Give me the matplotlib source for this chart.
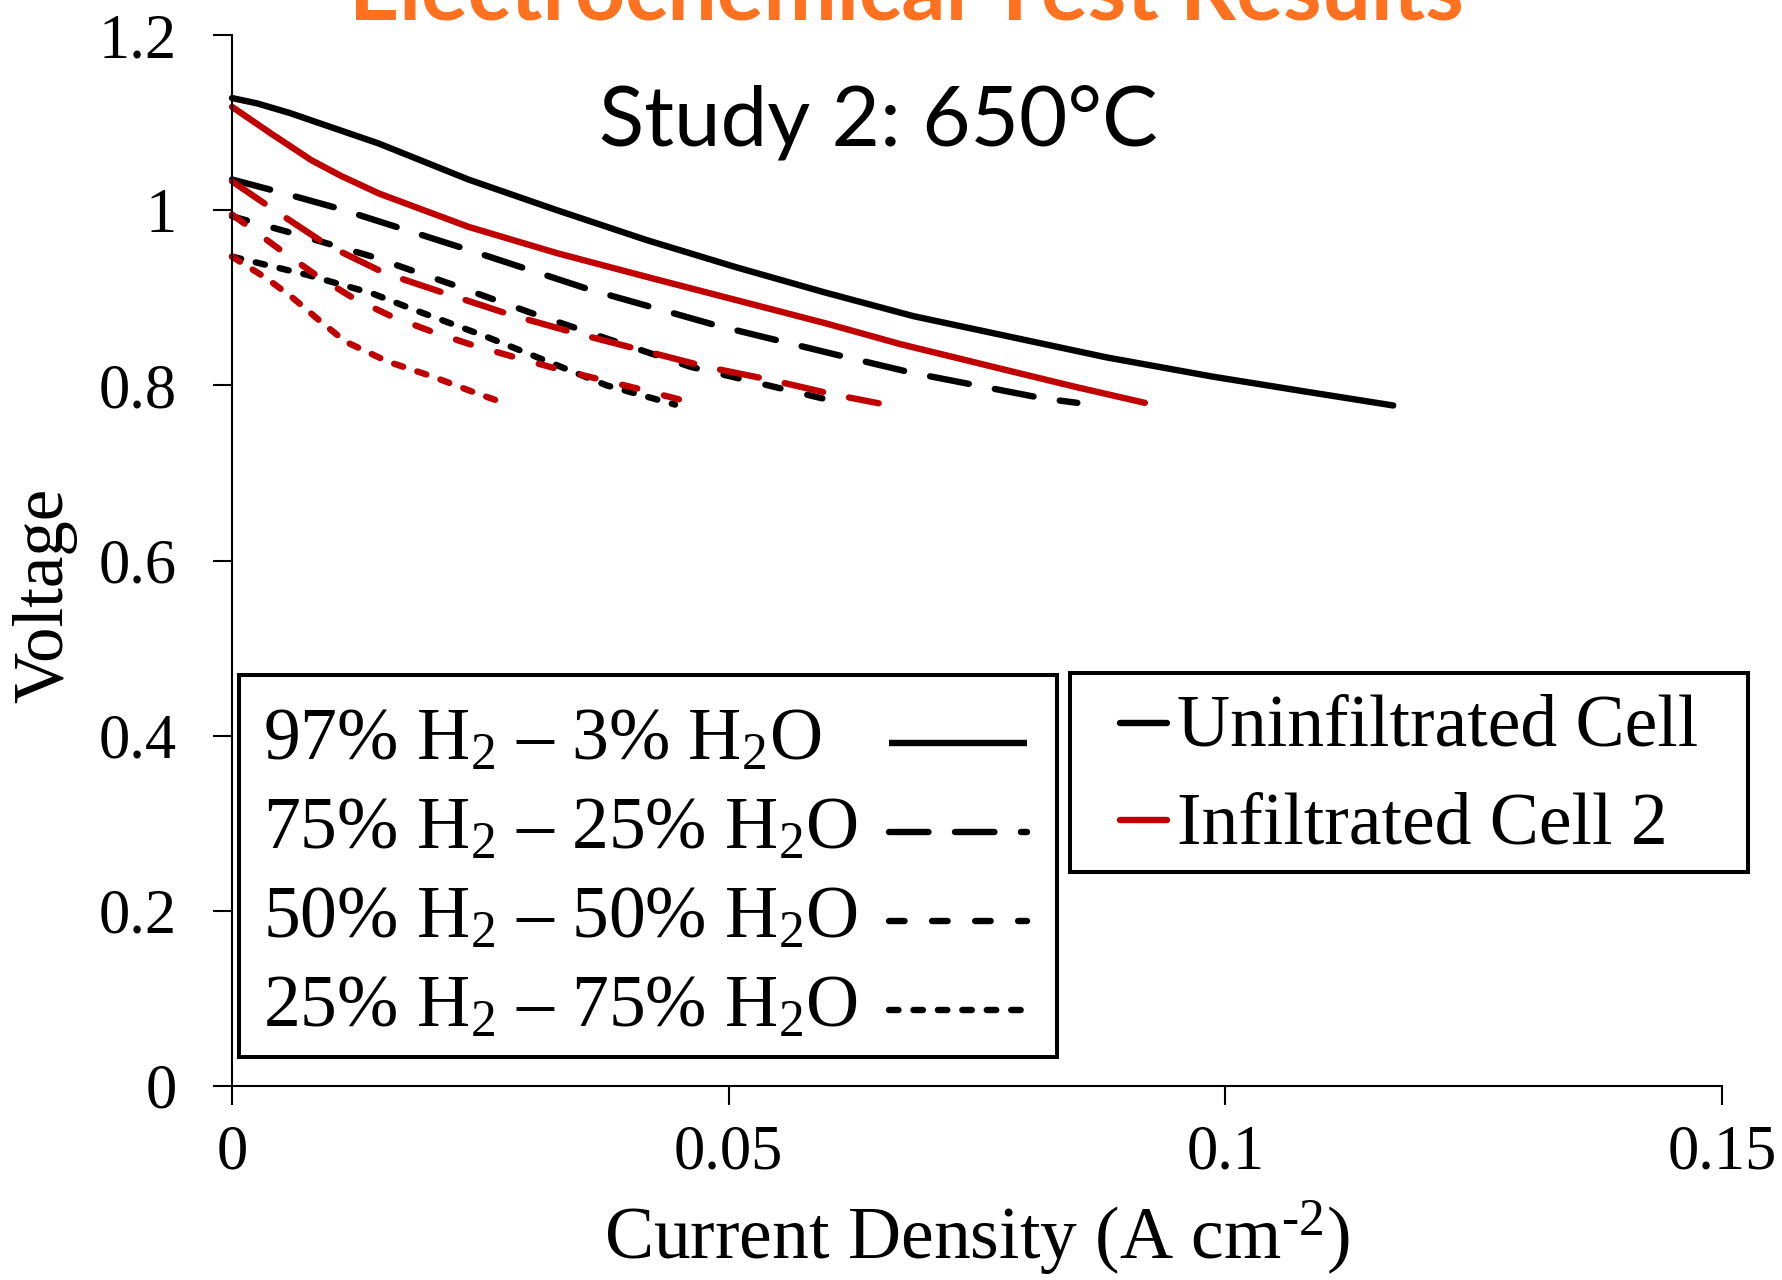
import matplotlib
matplotlib.use('Agg')
import matplotlib.pyplot as plt
from matplotlib.lines import Line2D
from matplotlib.patches import Rectangle

plt.rcParams['font.family'] = ['Liberation Serif', 'DejaVu Serif']
plt.rcParams['mathtext.fontset'] = 'custom'
plt.rcParams['mathtext.rm'] = 'Liberation Serif'
plt.rcParams['mathtext.it'] = 'Liberation Serif:italic'
plt.rcParams['mathtext.bf'] = 'Liberation Serif:bold'
plt.rcParams['lines.scale_dashes'] = False

# ---------------- data (current density A/cm2, voltage V) ----------------
unf_97_x = [0, 0.0025, 0.0058, 0.0148, 0.0238, 0.0327, 0.0417, 0.0507, 0.0597, 0.0686, 0.0781, 0.0880, 0.0987, 0.1080, 0.1169]
unf_97_v = [1.128, 1.122, 1.111, 1.076, 1.035, 1.000, 0.966, 0.935, 0.906, 0.879, 0.856, 0.832, 0.810, 0.793, 0.777]

inf_97_x = [0, 0.0040, 0.0080, 0.0110, 0.0148, 0.0238, 0.0327, 0.0417, 0.0507, 0.0597, 0.0673, 0.0781, 0.0850, 0.0919]
inf_97_v = [1.118, 1.087, 1.057, 1.039, 1.019, 0.981, 0.951, 0.924, 0.8975, 0.871, 0.847, 0.817, 0.798, 0.780]

unf_75_x = [0, 0.0050, 0.0107, 0.0233, 0.0361, 0.0489, 0.0619, 0.0686, 0.0817, 0.0851]
unf_75_v = [1.035, 1.020, 1.002, 0.9565, 0.909, 0.868, 0.832, 0.814, 0.785, 0.780]

inf_75_x = [0, 0.0040, 0.0096, 0.0154, 0.0220, 0.0282, 0.0348, 0.0413, 0.0478, 0.0543, 0.0608, 0.0651]
inf_75_v = [1.033, 1.002, 0.960, 0.928, 0.903, 0.880, 0.859, 0.840, 0.821, 0.806, 0.789, 0.7795]

unf_50_x = [0, 0.0060, 0.0141, 0.0222, 0.0303, 0.0381, 0.0462, 0.0545, 0.0613]
unf_50_v = [0.993, 0.974, 0.947, 0.915, 0.882, 0.852, 0.821, 0.7985, 0.780]

inf_50_x = [0, 0.0017, 0.0053, 0.0087, 0.0123, 0.0161, 0.0202, 0.0242, 0.0282, 0.0325, 0.0366, 0.0406, 0.0450]
inf_50_v = [0.995, 0.981, 0.951, 0.924, 0.899, 0.8785, 0.861, 0.846, 0.833, 0.8195, 0.808, 0.797, 0.784]

unf_25_x = [0, 0.0076, 0.0141, 0.0184, 0.0255, 0.0314, 0.0377, 0.0446]
unf_25_v = [0.947, 0.926, 0.905, 0.886, 0.856, 0.829, 0.800, 0.778]

inf_25_x = [0, 0.0035, 0.0060, 0.0087, 0.0114, 0.0157, 0.0202, 0.0246, 0.0271]
inf_25_v = [0.947, 0.922, 0.901, 0.875, 0.850, 0.827, 0.810, 0.791, 0.781]

composition_labels = [r'97% $\mathrm{H_2}$ – 3% $\mathrm{H_2O}$',
                      r'75% $\mathrm{H_2}$ – 25% $\mathrm{H_2O}$',
                      r'50% $\mathrm{H_2}$ – 50% $\mathrm{H_2O}$',
                      r'25% $\mathrm{H_2}$ – 75% $\mathrm{H_2O}$']
cell_labels = ['Uninfiltrated Cell', 'Infiltrated Cell 2']
x_ticks = [0, 0.05, 0.1, 0.15]
x_tick_labels = ['0', '0.05', '0.1', '0.15']
y_ticks = [0, 0.2, 0.4, 0.6, 0.8, 1.0, 1.2]
y_tick_labels = ['0', '0.2', '0.4', '0.6', '0.8', '1', '1.2']

# ---------------- styles ----------------
BLACK = '#000000'
RED = '#C00000'
ORANGE = '#FF711F'
styles = ['-', (0, (28.4, 19.1)), (0, (11.2, 19.8)), (0, (6.8, 10.8))]
LW = 4.6

W, H = 1783, 1280
fig = plt.figure(figsize=(W / 100, H / 100), dpi=100)
fx = lambda px: px / W
fy = lambda py: 1 - py / H

ax = fig.add_axes([fx(232), fy(1086), 1490 / W, 1051 / H])

unf = [(unf_97_x, unf_97_v), (unf_75_x, unf_75_v), (unf_50_x, unf_50_v), (unf_25_x, unf_25_v)]
inf = [(inf_97_x, inf_97_v), (inf_75_x, inf_75_v), (inf_50_x, inf_50_v), (inf_25_x, inf_25_v)]
for (x, v), ls in zip(unf, styles):
    ax.plot(x, v, color=BLACK, lw=LW, ls=ls, dash_capstyle='round', solid_capstyle='round',
            solid_joinstyle='round', clip_on=False)
for (x, v), ls in zip(inf, styles):
    ax.plot(x, v, color=RED, lw=LW, ls=ls, dash_capstyle='round', solid_capstyle='round',
            solid_joinstyle='round', clip_on=False)

ax.set_xlim(0, 0.15)
ax.set_ylim(0, 1.2)
ax.set_xticks(x_ticks)
ax.set_xticklabels(x_tick_labels)
ax.set_yticks(y_ticks)
ax.set_yticklabels(y_tick_labels)
for s in ['top', 'right']:
    ax.spines[s].set_visible(False)
for s in ['left', 'bottom']:
    ax.spines[s].set_linewidth(1.5)
ax.tick_params(axis='both', direction='out', length=13.7, width=1.5, labelsize=45)
ax.tick_params(axis='y', pad=26)
ax.tick_params(axis='x', pad=14)

ax.set_xlabel(r'Current Density (A cm$^{\text{-}2}$)', fontsize=53)
ax.xaxis.label.set_va('baseline')
ax.xaxis.set_label_coords(0.5, (1086 - 1259) / 1051)
ax.set_ylabel('Voltage', fontsize=51)
ax.yaxis.label.set_va('baseline')
ax.yaxis.set_label_coords((62 - 232) / 1490, (1086 - 595) / 1051)

# titles
fig.text(fx(878), fy(146), 'Study 2: 650°C', family='Lato', fontsize=60,
         ha='center', va='baseline', color='black')
fig.text(fx(906), fy(20), 'Electrochemical Test Results', family='Lato', weight='bold',
         fontsize=63, ha='center', va='baseline', color=ORANGE)

# left legend (composition -> line style)
fig.add_artist(Rectangle((fx(239), fy(1057)), (1057 - 239) / W, (1057 - 675) / H,
                         transform=fig.transFigure, fill=False, lw=2.9, ec='black'))
baselines = [760, 849, 938, 1027]
for lab, ls, b in zip(composition_labels, styles, baselines):
    fig.text(fx(263), fy(b), lab, fontsize=53, ha='left', va='baseline')
    fig.add_artist(Line2D([fx(889), fx(1027)], [fy(b - 17), fy(b - 17)], transform=fig.transFigure,
                          color='black', lw=LW, ls=ls, dash_capstyle='round', solid_capstyle='butt'))

# right legend (cell -> colour)
fig.add_artist(Rectangle((fx(1070), fy(872)), (1748 - 1070) / W, (872 - 673) / H,
                         transform=fig.transFigure, fill=False, lw=2.9, ec='black'))
for lab, col, b in zip(cell_labels, [BLACK, RED], [746, 843]):
    fig.text(fx(1177), fy(b), lab, fontsize=53, ha='left', va='baseline')
    fig.add_artist(Line2D([fx(1120), fx(1167)], [fy(b - 23), fy(b - 23)], transform=fig.transFigure,
                          color=col, lw=LW, solid_capstyle='round'))

fig.savefig('out.png', dpi=100)
